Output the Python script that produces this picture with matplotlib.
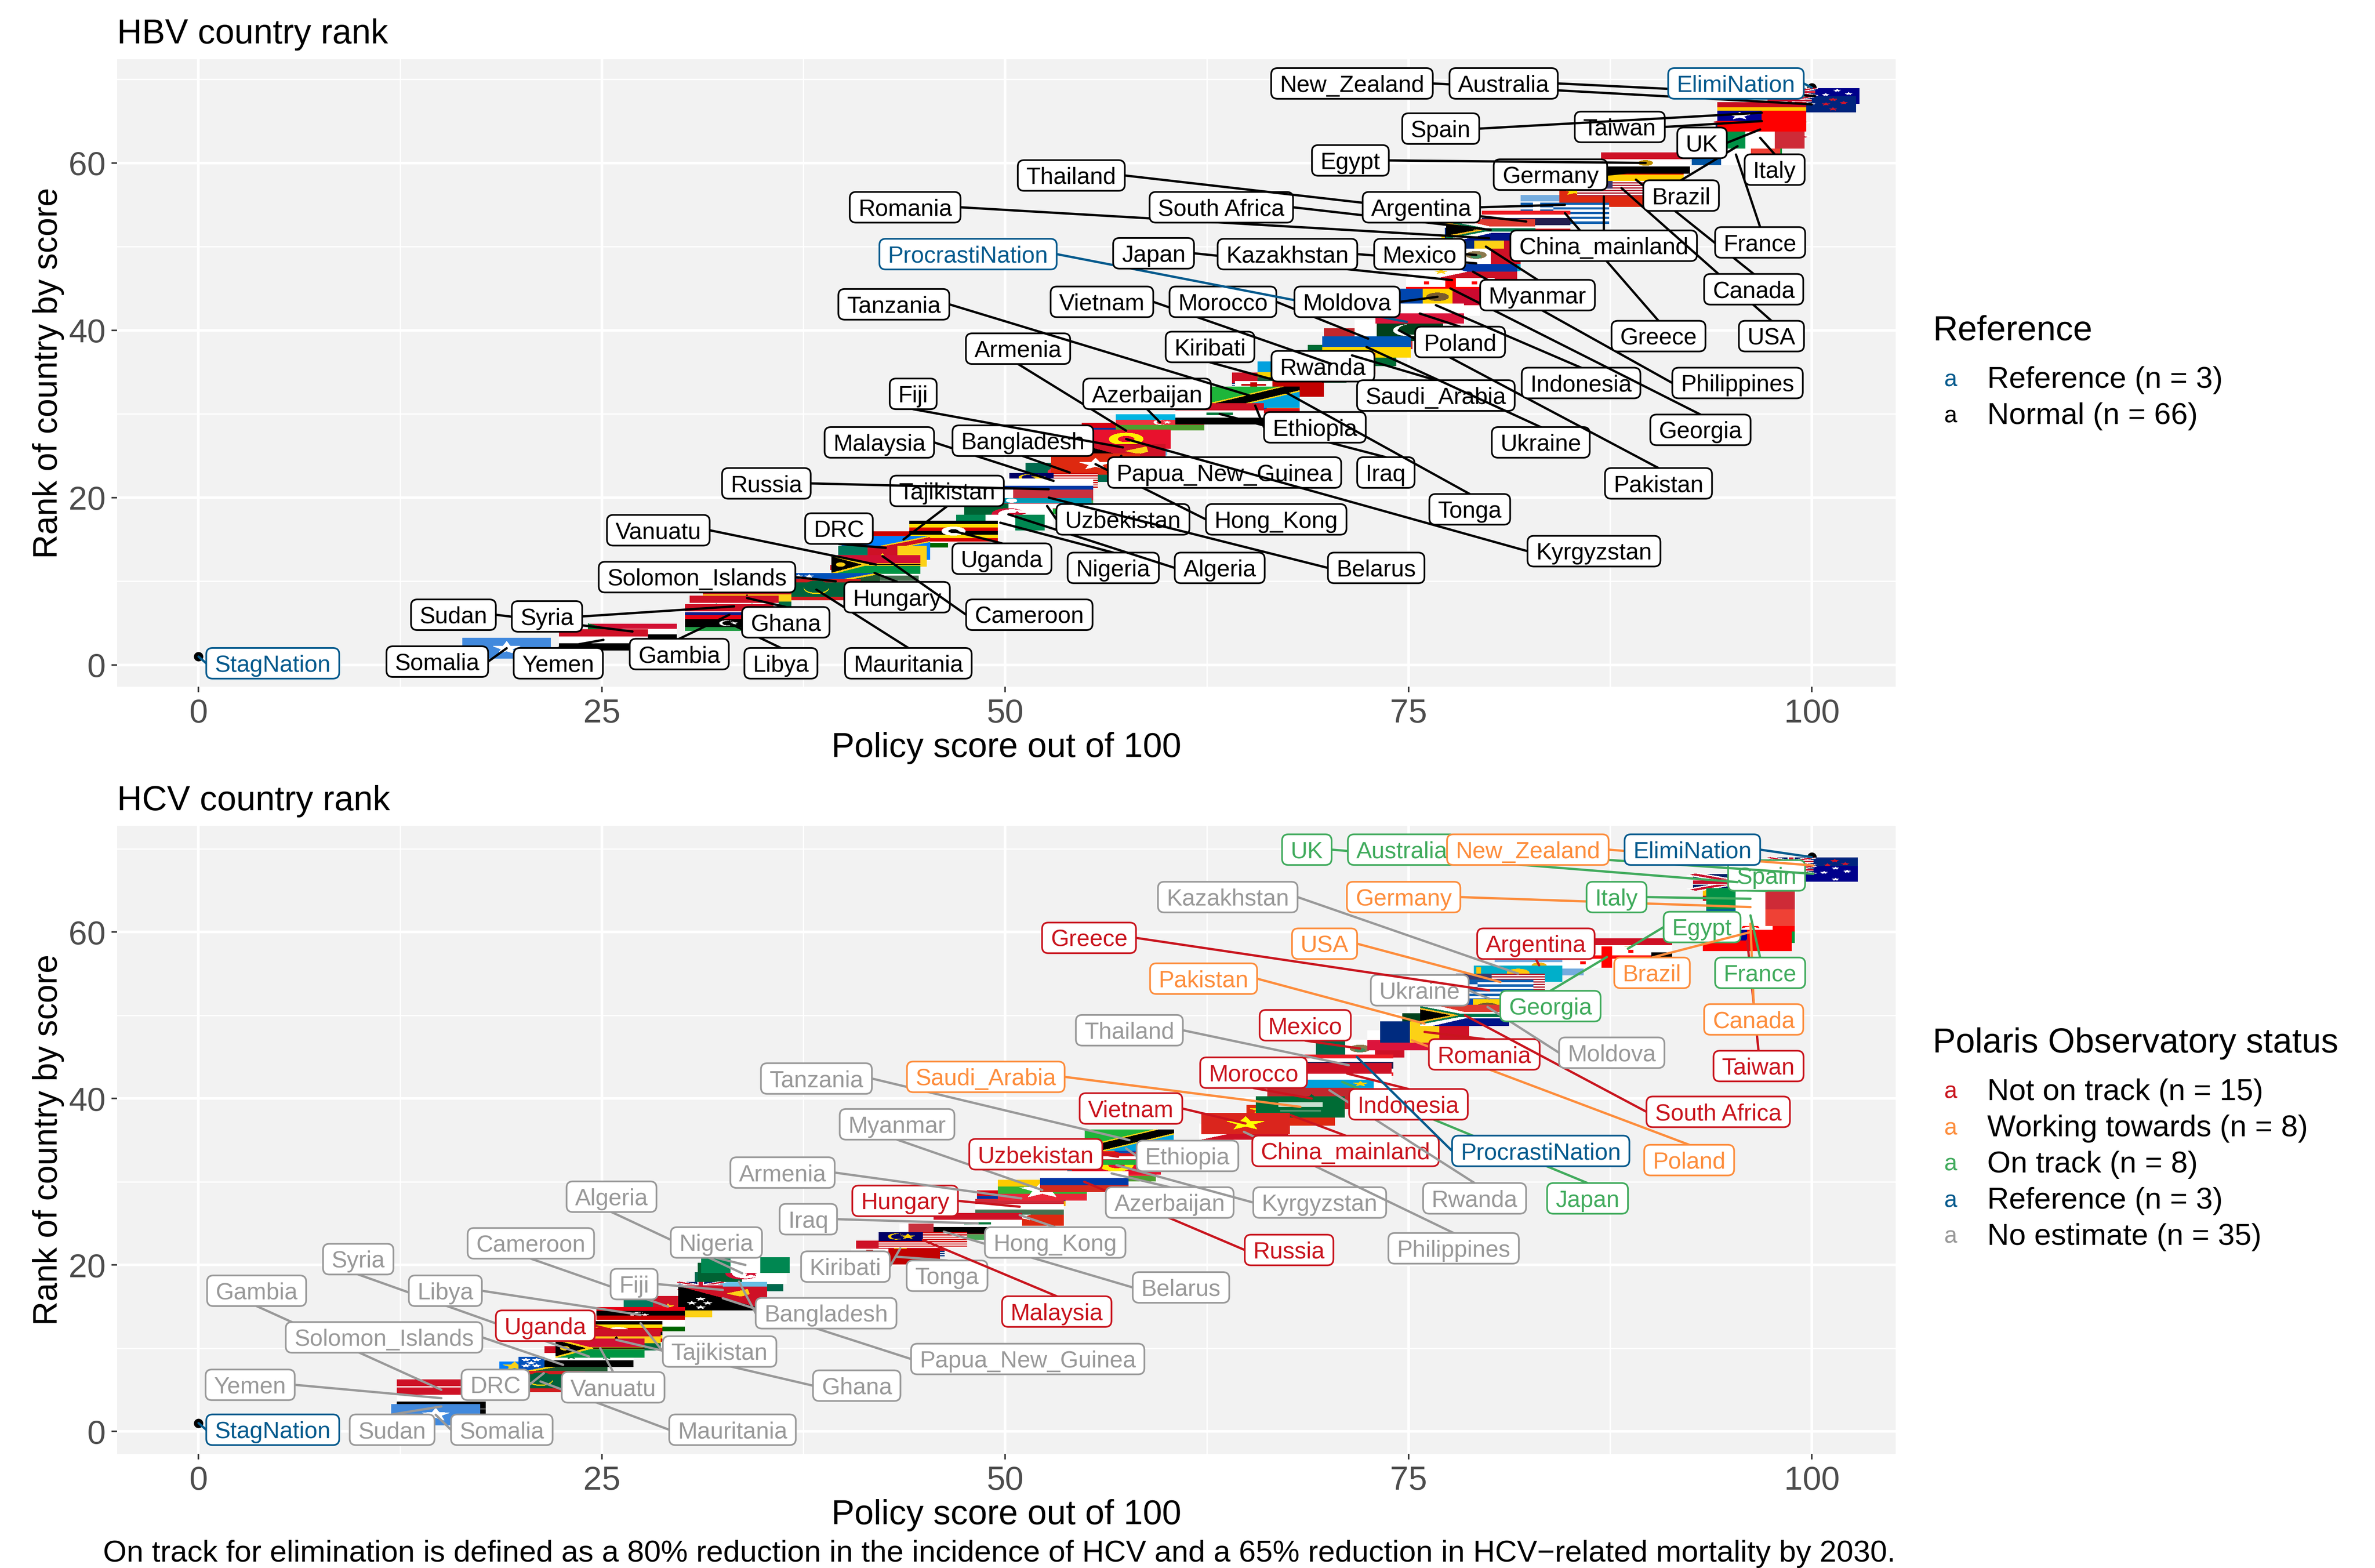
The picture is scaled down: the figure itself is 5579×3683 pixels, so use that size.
import math
import matplotlib
matplotlib.use("Agg")
import matplotlib.pyplot as plt
from matplotlib.collections import PolyCollection
from matplotlib.patches import FancyBboxPatch
from matplotlib.transforms import IdentityTransform

plt.rcParams['font.family'] = ['Liberation Sans', 'DejaVu Sans']

# ---------------------------------------------------------------- data
hbv_countries = ["StagNation","Somalia","Yemen","Sudan","Libya","Gambia","Syria","Ghana","Mauritania","Solomon_Islands",
 "Hungary","Vanuatu","Cameroon","DRC","Tajikistan","Uganda","Nigeria","Algeria","Uzbekistan","Belarus",
 "Russia","Malaysia","Bangladesh","Hong_Kong","Papua_New_Guinea","Fiji","Kyrgyzstan","Armenia","Azerbaijan","Iraq",
 "Ethiopia","Tanzania","Tonga","Kiribati","Rwanda","Vietnam","Saudi_Arabia","Ukraine","Morocco","Pakistan",
 "ProcrastiNation","Poland","Indonesia","Moldova","Georgia","Japan","Philippines","Kazakhstan","Mexico","Myanmar",
 "Romania","South Africa","Thailand","Greece","Argentina","China_mainland","USA","Canada","Germany","Egypt",
 "France","Brazil","Italy","UK","Taiwan","Spain","New_Zealand","Australia","ElimiNation"]
hbv_scores = [0,19.1,25.1,26.9,32.9,32.9,33.2,34,38.3,39.5,
 41.9,42.0,42.4,42.6,43.7,46.8,49.7,50.2,52.6,52.7,
 52.7,53.0,54.0,55.6,57.2,57.3,57.5,57.5,59.6,63.3,
 65.5,65.5,67.0,66.8,68.4,70.2,71.5,72.4,72.5,74.4,
 74.9,75.7,76.7,76.8,77.6,77.7,79.0,79.2,79.2,79.8,
 80.0,80.1,82.3,84.7,84.7,87.1,88.2,89.1,89.3,89.7,
 95.3,95.4,96.8,96.8,96.9,96.9,100,100.2,100]
hbv_ranks = list(range(1, 70))

hcv_countries = ["StagNation","Somalia","Sudan","Yemen","Gambia","Mauritania","DRC","Solomon_Islands","Syria","Vanuatu",
 "Ghana","Uganda","Tajikistan","Libya","Cameroon","Papua_New_Guinea","Fiji","Bangladesh","Algeria","Nigeria",
 "Tonga","Kiribati","Malaysia","Belarus","Iraq","Hong_Kong","Hungary","Armenia","Myanmar","Russia",
 "Azerbaijan","Kyrgyzstan","Uzbekistan","Ethiopia","Tanzania","Philippines","Vietnam","China_mainland","Saudi_Arabia","Morocco",
 "Rwanda","Japan","Indonesia","Thailand","ProcrastiNation","Mexico","Poland","Romania","Pakistan","South Africa",
 "Moldova","Ukraine","Greece","USA","Kazakhstan","Argentina","Georgia","Egypt","Taiwan","Brazil",
 "Canada","France","Germany","Italy","Spain","UK","Australia","New_Zealand","ElimiNation"]
hcv_scores = [0,14.7,15.05,15.05,15.05,21.2,21.4,22.6,24.2,24.9,
 25.9,26.0,27.4,27.4,29.1,32.5,32.5,33.5,33.7,33.9,
 43.2,43.5,44.9,46.2,48.3,50.9,50.9,51.0,52.3,54.9,
 56.6,56.9,57.0,57.5,57.7,64.8,64.9,67.7,68.3,69.0,
 70.1,70.9,71.2,71.3,71.8,72.0,75.2,76.0,76.0,78.5,
 79.9,80.0,80.0,80.7,81.8,83.1,87.3,88.6,96.0,96.2,
 96.2,96.2,96.2,96.2,96.0,95.4,100.1,100.1,100]
hcv_ranks = list(range(1, 70))

not_on_track = ["Greece","Argentina","Mexico","Romania","Taiwan","Morocco","Indonesia","Vietnam","South Africa",
                "China_mainland","Uzbekistan","Hungary","Russia","Malaysia","Uganda"]
working_towards = ["New_Zealand","Germany","USA","Brazil","Pakistan","Canada","Saudi_Arabia","Poland"]
on_track = ["UK","Australia","Italy","Spain","Egypt","France","Georgia","Japan"]
reference = ["ElimiNation","ProcrastiNation","StagNation"]

hbv_legend_title = "Reference"
hbv_legend_labels = ["Reference (n = 3)", "Normal (n = 66)"]
hcv_legend_title = "Polaris Observatory status"
hcv_legend_labels = ["Not on track (n = 15)", "Working towards (n = 8)", "On track (n = 8)", "Reference (n = 3)", "No estimate (n = 35)"]
x_ticks = [0, 25, 50, 75, 100]
y_ticks = [0, 20, 40, 60]
caption = "On track for elimination is defined as a 80% reduction in the incidence of HCV and a 65% reduction in HCV\u2212related mortality by 2030."

# ---------------------------------------------------------------- layout / style
RED, ORANGE, GREEN, BLUE, GREY = "#C9151E", "#FD8D3C", "#41AB5D", "#045A8D", "#999999"

# stacking of the flags: smaller key = nearer the viewer; the rank is the default key
HBV_STACK = {"Taiwan":30,"Italy":40,"Egypt":54.2,"Germany":54.3,"USA":54.4,"China_mainland":54.5,"Canada":54.6,
 "South Africa":49.0,"Romania":49.1,"Mexico":49.2,"Myanmar":49.3,"Kazakhstan":49.4,"Japan":47.5,"Moldova":42.9,
 "Pakistan":42.5,"Morocco":42.6,"Ukraine":36.5,"Hungary":12.5,"Tajikistan":16.5,"Hong_Kong":22.5,"Fiji":27.5,
 "Armenia":29.5,"Iraq":28.5,"Tanzania":30.5,"Kiribati":35.5}
HCV_STACK = {"UK":64.5,"Germany":65.5,"France":64.1,"Canada":64.2,"Brazil":64.3,"Georgia":55.5,"Ukraine":54.5,
 "South Africa":45.5,"Romania":45.6,"Pakistan":45.7,"Poland":45.8,"Mexico":45.9,"Japan":44.5,"China_mainland":39.5,
 "Philippines":37.5,"Tanzania":31.1,"Ethiopia":31.15,"Uzbekistan":31.2,"Kyrgyzstan":31.3,"Azerbaijan":31.4,
 "Russia":26.4,"Myanmar":26.5,"Hong_Kong":27.5,"Belarus":25.5,"Kiribati":23.5,"Nigeria":18.5,"Bangladesh":19.5,
 "Cameroon":16.5,"Syria":10.5,"Solomon_Islands":10.6,"DRC":10.7,"Gambia":4.5,"Sudan":4.6}

HBV_LABEL_POS = {
"New_Zealand":(71.5,69.5),"Australia":(80.9,69.5),"ElimiNation":(95.3,69.5),"Spain":(77.0,64.1),"Taiwan":(88.1,64.3),
"UK":(93.2,62.4),"Egypt":(71.4,60.3),"Italy":(97.7,59.2),"Germany":(83.8,58.6),"Brazil":(91.9,56.1),
"Thailand":(54.1,58.5),"Romania":(43.8,54.7),"South Africa":(63.4,54.7),"Argentina":(75.8,54.7),"France":(96.8,50.5),
"China_mainland":(87.1,50.1),"ProcrastiNation":(47.7,49.1),"Japan":(59.2,49.2),"Kazakhstan":(67.5,49.1),"Mexico":(75.7,49.1),
"Canada":(96.4,44.9),"Myanmar":(83.0,44.2),"Vietnam":(56.0,43.4),"Morocco":(63.5,43.4),"Moldova":(71.2,43.4),
"Tanzania":(43.1,43.1),"Greece":(90.5,39.3),"USA":(97.5,39.3),"Poland":(78.2,38.6),"Kiribati":(62.7,38.0),
"Armenia":(50.8,37.8),"Rwanda":(69.7,35.7),"Indonesia":(85.7,33.7),"Philippines":(95.4,33.7),"Azerbaijan":(58.8,32.4),
"Fiji":(44.3,32.4),"Saudi_Arabia":(76.7,32.2),"Ethiopia":(69.2,28.4),"Georgia":(93.1,28.1),"Malaysia":(42.2,26.6),
"Bangladesh":(51.1,26.8),"Ukraine":(83.2,26.6),"Iraq":(73.6,23.0),"Papua_New_Guinea":(63.6,23.0),"Russia":(35.2,21.7),
"Pakistan":(90.5,21.7),"Tajikistan":(46.4,20.8),"Tonga":(78.8,18.6),"Uzbekistan":(57.3,17.4),"Hong_Kong":(66.8,17.4),
"DRC":(39.7,16.3),"Vanuatu":(28.5,16.1),"Kyrgyzstan":(86.5,13.6),"Uganda":(49.8,12.7),"Nigeria":(56.7,11.6),
"Algeria":(63.3,11.6),"Belarus":(73.0,11.6),"Solomon_Islands":(30.9,10.5),"Hungary":(43.3,8.1),"Cameroon":(51.5,6.0),
"Sudan":(15.8,6.0),"Syria":(21.6,5.8),"Ghana":(36.4,5.1),"Gambia":(29.8,1.3),"Mauritania":(44.0,0.2),
"Somalia":(14.8,0.4),"Yemen":(22.3,0.2),"Libya":(36.1,0.2),"StagNation":(4.6,0.2)}

HCV_LABEL_POS = {
"UK":(68.7,69.9),"Australia":(74.6,69.9),"New_Zealand":(82.4,69.9),"ElimiNation":(92.6,69.9),"Spain":(97.2,66.8),
"Kazakhstan":(63.8,64.2),"Germany":(74.7,64.2),"Italy":(87.9,64.2),"Egypt":(93.2,60.6),"Greece":(55.2,59.3),
"Argentina":(82.9,58.6),"USA":(69.8,58.6),"Brazil":(90.1,55.1),"France":(96.8,55.1),"Pakistan":(62.3,54.4),
"Ukraine":(75.7,53.0),"Georgia":(83.8,51.1),"Canada":(96.4,49.5),"Mexico":(68.6,48.8),"Thailand":(57.7,48.2),
"Romania":(79.7,45.3),"Moldova":(87.6,45.5),"Taiwan":(96.7,43.9),"Morocco":(65.4,43.1),"Tanzania":(38.3,42.4),
"Saudi_Arabia":(48.8,42.6),"Indonesia":(75.0,39.3),"Vietnam":(57.8,38.8),"South Africa":(94.2,38.4),"Myanmar":(43.3,36.9),
"China_mainland":(71.1,33.7),"ProcrastiNation":(83.2,33.7),"Uzbekistan":(51.9,33.3),"Ethiopia":(61.3,33.1),"Poland":(92.4,32.6),
"Armenia":(36.2,31.1),"Rwanda":(79.1,28.0),"Japan":(86.1,28.0),"Kyrgyzstan":(69.5,27.5),"Azerbaijan":(60.2,27.5),
"Algeria":(25.6,28.2),"Hungary":(43.8,27.7),"Iraq":(37.8,25.5),"Hong_Kong":(53.1,22.7),"Nigeria":(32.1,22.7),
"Cameroon":(20.6,22.6),"Russia":(67.6,21.8),"Philippines":(77.8,22.0),"Kiribati":(40.1,19.8),"Tonga":(46.4,18.7),
"Syria":(9.9,20.7),"Belarus":(60.9,17.3),"Gambia":(3.6,16.9),"Libya":(15.3,16.9),"Fiji":(27.0,17.7),
"Malaysia":(53.2,14.4),"Bangladesh":(38.9,14.2),"Uganda":(21.5,12.7),"Solomon_Islands":(11.5,11.3),"Tajikistan":(32.3,9.6),
"Papua_New_Guinea":(51.4,8.7),"Yemen":(3.2,5.6),"DRC":(18.4,5.6),"Vanuatu":(25.7,5.3),"Ghana":(40.8,5.5),
"Mauritania":(33.1,0.2),"Somalia":(18.8,0.2),"Sudan":(12.0,0.2),"StagNation":(4.6,0.2)}

# ---------------------------------------------------------------- flag art, in unit coordinates (y down)
def R(x0, y0, x1, y1, c):
    return [([(x0,y0),(x1,y0),(x1,y1),(x0,y1)], c)]
def H(cols, w=None):
    w = w or [1]*len(cols); t = sum(w); out = []; y = 0
    for c, k in zip(cols, w):
        out += R(0, y/t, 1, (y+k)/t, c); y += k
    return out
def V(cols, w=None):
    w = w or [1]*len(cols); t = sum(w); out = []; x = 0
    for c, k in zip(cols, w):
        out += R(x/t, 0, (x+k)/t, 1, c); x += k
    return out
def P(pts, c):
    return [(pts, c)]
def O(cx, cy, r, c, asp=2.0):
    return [([(cx+r/asp*math.cos(t*math.pi/16), cy+r*math.sin(t*math.pi/16)) for t in range(32)], c)]
def S(cx, cy, r, c, asp=2.0):
    pts = []
    for i in range(10):
        rr = r if i % 2 == 0 else r*0.42
        a = -math.pi/2 + i*math.pi/5
        pts.append((cx+rr/asp*math.cos(a), cy+rr*math.sin(a)))
    return [(pts, c)]
def UJ(x0, y0, x1, y1):
    w, h = x1-x0, y1-y0
    def band(a, b, t, c):
        dx, dy = (b[0]-a[0]), (b[1]-a[1]); L = math.hypot(dx/w, dy/h)
        nx, ny = -dy/h/L*t*w, dx/w/L*t*h
        return [([(a[0]+nx,a[1]+ny),(b[0]+nx,b[1]+ny),(b[0]-nx,b[1]-ny),(a[0]-nx,a[1]-ny)], c)]
    out = R(x0,y0,x1,y1,"#012169")
    out += band((x0,y0),(x1,y1),.1,"#FFFFFF") + band((x0,y1),(x1,y0),.1,"#FFFFFF")
    out += band((x0,y0),(x1,y1),.04,"#C8102E") + band((x0,y1),(x1,y0),.04,"#C8102E")
    out += R(x0,y0+h*.33,x1,y0+h*.67,"#FFFFFF") + R(x0+w*.42,y0,x0+w*.58,y1,"#FFFFFF")
    out += R(x0,y0+h*.4,x1,y0+h*.6,"#C8102E") + R(x0+w*.45,y0,x0+w*.55,y1,"#C8102E")
    return out

W_, K_ = "#FFFFFF", "#000000"
FLAGS = {
"Somalia":(1.5, R(0,0,1,1,"#4189DD")+S(.5,.5,.32,W_)),
"Yemen":(1.5, H(["#CE1126",W_,K_])),
"Sudan":(2, H(["#D21034",W_,K_])+P([(0,0),(.33,.5),(0,1)],"#007229")),
"Libya":(2, H(["#E70013",K_,"#239E46"],[1,2,1])+O(.47,.5,.16,W_)+O(.49,.5,.13,K_)+S(.55,.5,.08,W_)),
"Gambia":(1.5, H(["#CE1126",W_,"#0C1C8C",W_,"#3A7728"],[6,1,4,1,6])),
"Syria":(1.5, H(["#CE1126",W_,K_])+S(.3,.5,.13,"#007A3D")+S(.7,.5,.13,"#007A3D")),
"Ghana":(1.5, H(["#CE1126","#FCD116","#006B3F"])+S(.5,.5,.16,K_)),
"Mauritania":(1.5, H(["#D01C1F","#00623B","#D01C1F"],[1,4,1])+S(.5,.3,.13,"#FFD700")+O(.5,.42,.28,"#FFD700")+O(.5,.36,.28,"#00623B")),
"Solomon_Islands":(2, P([(0,0),(1,0),(0,1)],"#0051BA")+P([(1,0),(1,1),(0,1)],"#215B33")+P([(.95,0),(1,0),(1,.03),(.05,1),(0,1),(0,.97)],"#FCD116")
    +S(.08,.18,.1,W_)+S(.2,.18,.1,W_)+S(.14,.38,.1,W_)+S(.08,.55,.1,W_)+S(.2,.55,.1,W_)),
"Hungary":(2, H(["#CE2939",W_,"#477050"])),
"Vanuatu":(5/3, H(["#D21034",K_,"#009543"],[8,1,8])+R(0,.44,1,.56,"#FDCE12")+R(0,.47,1,.53,K_)
    +P([(0,0),(.42,.5),(0,1)],"#FDCE12")+P([(0,.09),(.33,.5),(0,.91)],K_)+O(.1,.5,.1,"#FDCE12")),
"Cameroon":(1.5, V(["#007A5E","#CE1126","#FCD116"])+S(.5,.5,.13,"#FCD116")),
"DRC":(4/3, R(0,0,1,1,"#007FFF")+P([(0,1),(0,.75),(1,0),(1,.25)],"#FCD116")+P([(0,.94),(0,.8),(1,.06),(1,.2)],"#CE1021")+S(.17,.2,.18,"#FCD116",1.33)),
"Tajikistan":(2, H(["#CC0000",W_,"#006600"],[2,3,2])+S(.5,.5,.1,"#F8C300")),
"Uganda":(1.5, H([K_,"#FCDC04","#D90000",K_,"#FCDC04","#D90000"])+O(.5,.5,.2,W_,1.5)+O(.5,.5,.08,K_,1.5)),
"Nigeria":(2, V(["#008751",W_,"#008751"])),
"Algeria":(1.5, V(["#006233",W_])+O(.5,.5,.28,"#D21034",1.5)+O(.54,.5,.23,W_,1.5)+S(.6,.5,.14,"#D21034",1.5)),
"Uzbekistan":(2, H(["#0099B5",W_,"#1EB53A"])+R(0,.32,1,.35,"#CE1126")+R(0,.65,1,.68,"#CE1126")+O(.1,.16,.12,W_)),
"Belarus":(2, H(["#C8313E","#4AA657"],[2,1])+R(0,0,.1,1,W_)),
"Russia":(1.5, H([W_,"#0039A6","#D52B1E"])),
"Malaysia":(2, H(["#CC0001",W_]*7)+R(0,0,.5,.57,"#010066")+O(.2,.28,.18,"#FFCC00")+O(.22,.28,.15,"#010066")+S(.33,.28,.16,"#FFCC00")),
"Bangladesh":(5/3, R(0,0,1,1,"#006A4E")+O(.45,.5,.33,"#F42A41",1.67)),
"Hong_Kong":(1.5, R(0,0,1,1,"#DE2910")+S(.5,.5,.28,W_,1.5)),
"Papua_New_Guinea":(4/3, P([(0,0),(1,0),(1,1)],"#CE1126")+P([(0,0),(1,1),(0,1)],K_)+P([(.55,.3),(.78,.12),(.8,.32),(.7,.42)],"#FCD116")
    +S(.25,.53,.07,W_,1.33)+S(.15,.7,.07,W_,1.33)+S(.33,.7,.07,W_,1.33)+S(.25,.88,.07,W_,1.33)),
"Fiji":(2, R(0,0,1,1,"#68BFE5")+UJ(0,0,.5,.5)+R(.62,.3,.85,.55,"#CE1126")),
"Kyrgyzstan":(5/3, R(0,0,1,1,"#E8112D")+O(.5,.5,.32,"#FFEF00",1.67)+O(.5,.5,.15,"#E8112D",1.67)),
"Armenia":(2, H(["#D90012","#0033A0","#F2A800"])),
"Azerbaijan":(2, H(["#00B5E2","#EF3340","#509E2F"])+O(.5,.5,.14,W_)+O(.52,.5,.11,"#EF3340")+S(.58,.5,.08,W_)),
"Iraq":(1.5, H(["#CE1126",W_,K_])+R(.35,.44,.65,.56,"#007A3D")),
"Ethiopia":(2, H(["#078930","#FCDD09","#DA121A"])+O(.5,.5,.3,"#0F47AF")),
"Tanzania":(1.5, P([(0,0),(1,0),(0,1)],"#1EB53A")+P([(1,0),(1,1),(0,1)],"#00A3DD")+P([(.78,0),(1,0),(1,.23),(.22,1),(0,1),(0,.77)],"#FCD116")
    +P([(.84,0),(1,0),(1,.16),(.16,1),(0,1),(0,.84)],K_)),
"Tonga":(2, R(0,0,1,1,"#C10000")+R(0,0,.42,.5,W_)+R(.17,.08,.25,.42,"#C10000")+R(.07,.2,.35,.3,"#C10000")),
"Kiribati":(2, H(["#CE1126","#CE1126","#003F87",W_,"#003F87",W_,"#003F87"],[5,5,1,1,1,1,1])+O(.5,.5,.14,"#FCD116")),
"Rwanda":(1.5, H(["#00A1DE","#FAD201","#20603D"],[2,1,1])+S(.85,.2,.12,"#FAD201",1.5)),
"Vietnam":(1.5, R(0,0,1,1,"#DA251D")+S(.5,.5,.33,"#FFFF00",1.5)),
"Saudi_Arabia":(1.5, R(0,0,1,1,"#006C35")+R(.25,.28,.75,.5,"#C8E0D0")+R(.27,.68,.73,.71,W_)),
"Ukraine":(1.5, H(["#0057B7","#FFD700"])),
"Morocco":(1.5, R(0,0,1,1,"#C1272D")+S(.5,.5,.2,"#006233",1.5)),
"Pakistan":(1.5, V([W_,"#01411C"],[1,3])+O(.62,.5,.27,W_,1.5)+O(.66,.46,.24,"#01411C",1.5)),
"Poland":(1.6, H([W_,"#DC143C"])),
"Indonesia":(1.5, H(["#CE1126",W_])),
"Moldova":(2, V(["#0046AE","#FFD200","#CC092F"])+O(.5,.5,.25,"#7A5C2E")),
"Georgia":(1.5, R(0,0,1,1,W_)+R(.44,0,.56,1,"#FF0000")+R(0,.42,1,.58,"#FF0000")+R(.2,.16,.26,.3,"#FF0000")+R(.74,.7,.8,.84,"#FF0000")+R(.2,.7,.26,.84,"#FF0000")+R(.74,.16,.8,.3,"#FF0000")),
"Japan":(1.5, R(0,0,1,1,W_)+O(.5,.5,.3,"#BC002D",1.5)),
"Philippines":(2, H(["#0038A8","#CE1126"])+P([(0,0),(.43,.5),(0,1)],W_)+S(.14,.5,.15,"#FCD116")),
"Kazakhstan":(2, R(0,0,1,1,"#00AFCA")+O(.5,.45,.25,"#FEC50C")+R(.03,.1,.08,.9,"#FEC50C")),
"Mexico":(1.75, V(["#006847",W_,"#CE1126"])+O(.5,.5,.2,"#8C7A4E",1.75)+O(.5,.58,.1,"#3F8F5F",1.75)),
"Myanmar":(1.5, H(["#FECB00","#34B233","#EA2839"])+S(.5,.5,.4,W_,1.5)),
"Romania":(1.5, V(["#002B7F","#FCD116","#CE1126"])),
"South Africa":(1.5, H(["#E03C31","#E03C31","#001489","#001489"],[1,1,1,1])+P([(0,0),(.13,0),(.5,.36),(1,.36),(1,.64),(.5,.64),(.13,1),(0,1)],W_)
    +P([(0,.08),(.44,.43),(1,.43),(1,.57),(.44,.57),(0,.92)],"#007749")+P([(0,.16),(.42,.5),(0,.84)],"#FFB81C")+P([(0,.24),(.33,.5),(0,.76)],K_)),
"Thailand":(1.5, H(["#ED1C24",W_,"#241D4F",W_,"#ED1C24"],[1,1,2,1,1])),
"Greece":(1.5, H(["#0D5EAF",W_]*4+["#0D5EAF"])+R(0,0,.37,.556,"#0D5EAF")+R(.14,0,.22,.556,W_)+R(0,.22,.37,.33,W_)),
"Argentina":(1.6, H(["#74ACDF",W_,"#74ACDF"])+O(.5,.5,.13,"#F6B40E",1.6)),
"China_mainland":(1.5, R(0,0,1,1,"#DE2910")+S(.17,.25,.2,"#FFDE00",1.5)+S(.33,.12,.06,"#FFDE00",1.5)+S(.38,.22,.06,"#FFDE00",1.5)+S(.38,.36,.06,"#FFDE00",1.5)),
"USA":(1.9, H(["#B22234",W_]*6+["#B22234"])+R(0,0,.4,.54,"#3C3B6E")),
"Canada":(2, V(["#FF0000",W_,"#FF0000"],[1,2,1])+S(.5,.5,.33,"#FF0000")),
"Germany":(5/3, H([K_,"#DD0000","#FFCE00"])),
"Egypt":(1.5, H(["#CE1126",W_,K_])+O(.5,.5,.12,"#C09300",1.5)),
"France":(1.5, V(["#0055A4",W_,"#EF4135"])),
"Brazil":(1.43, R(0,0,1,1,"#009C3B")+P([(.5,.1),(.92,.5),(.5,.9),(.08,.5)],"#FFDF00")+O(.5,.5,.25,"#002776",1.43)),
"Italy":(1.5, V(["#009246",W_,"#CE2B37"])),
"UK":(2, UJ(0,0,1,1)),
"Taiwan":(1.5, R(0,0,1,1,"#FE0000")+R(0,0,.5,.5,"#000095")+S(.25,.25,.18,W_,1.5)),
"Spain":(1.5, H(["#C60B1E","#FFC400","#C60B1E"],[1,2,1])),
"New_Zealand":(2, R(0,0,1,1,"#00247D")+UJ(0,0,.5,.5)+S(.74,.2,.09,"#CC142B")+S(.66,.48,.09,"#CC142B")+S(.86,.4,.09,"#CC142B")+S(.74,.8,.09,"#CC142B")),
"Australia":(2, R(0,0,1,1,"#00008B")+UJ(0,0,.5,.5)+S(.25,.75,.14,W_)+S(.75,.15,.08,W_)+S(.62,.42,.08,W_)+S(.88,.35,.08,W_)+S(.75,.85,.08,W_)),
}
FLAG_W = 5.5        # data units of width
FLAG_K = 3.8        # height = FLAG_K / aspect, in ranks

W, H_PX = 5579, 3683
DPI = 300
fig = plt.figure(figsize=(W/DPI, H_PX/DPI), dpi=DPI, facecolor="white")

def make_axes(top, bottom, ylim):
    ax = fig.add_axes([275/W, 1-bottom/H_PX, (4453-275)/W, (bottom-top)/H_PX])
    ax.set_facecolor("#F2F2F2")
    ax.set_xlim(-5.05, 105.2)
    ax.set_ylim(*ylim)
    ax.set_xticks(x_ticks)
    ax.set_yticks(y_ticks)
    ax.set_xticks([12.5, 37.5, 62.5, 87.5], minor=True)
    ax.set_yticks([10, 30, 50, 70], minor=True)
    ax.grid(which="major", color="white", lw=1.5)
    ax.grid(which="minor", color="white", lw=0.75)
    ax.set_axisbelow(True)
    ax.tick_params(which="major", length=3.2, width=0.85, color="#333333", labelcolor="#4D4D4D", labelsize=18.8, pad=3.2)
    ax.tick_params(which="minor", length=0)
    for s in ax.spines.values():
        s.set_visible(False)
    ax.set_xlabel("Policy score out of 100", fontsize=19.5, color="black")
    ax.set_ylabel("Rank of country by score", fontsize=18.9, color="black")
    ax.xaxis.set_label_coords(0.5, -144/(bottom-top))
    ax.xaxis.label.set_va("center")
    ax.yaxis.set_label_coords((114-275)/(4453-275), 0.5)
    ax.yaxis.label.set_va("center")
    return ax

def draw_flag(ax, name, x, y, z):
    asp, shapes = FLAGS[name]
    h = FLAG_K/asp
    verts = [[(x+(u-.5)*FLAG_W, y+h/2-v*h) for u, v in pts] for pts, _ in shapes]
    cols = [c for _, c in shapes]
    ax.add_collection(PolyCollection(verts, facecolors=cols, linewidths=0, antialiaseds=False, zorder=z))

def draw_panel(ax, countries, scores, ranks, label_pos, colour_of, title, stack):
    ax.set_title(title, loc="left", fontsize=19.5, pad=8.8, color="black")
    renderer = fig.canvas.get_renderer()
    box = ax.get_window_extent(renderer)
    for c, x, y in zip(countries, scores, ranks):
        if c in reference:
            ax.plot([x], [y], "o", ms=5.3, color="black", mew=0, zorder=2.5)
        else:
            draw_flag(ax, c, x, y, 5 - stack.get(c, y)*0.01)
    fs = 13.2
    for i, (c, x, y) in enumerate(zip(countries, scores, ranks)):
        col = colour_of(c)
        lx, ly = label_pos[c]
        base = 10 + i*3
        t = ax.annotate(c, (lx, ly), xytext=(0, -fs*0.36), textcoords="offset points", ha="center", va="baseline",
                        fontsize=fs, color=col, zorder=base+2, annotation_clip=False)
        bb = t.get_window_extent(renderer)
        cx, cy = ax.transData.transform((lx, ly))
        bw, bh = bb.width + 40, 72
        # the leader leaves the box at the nearest mid-edge, measured in panel fractions
        px, py = ax.transData.transform((x, y))
        mids = [(cx-bw/2, cy), (cx+bw/2, cy), (cx, cy-bh/2), (cx, cy+bh/2)]
        ex, ey = min(mids, key=lambda m: math.hypot((m[0]-px)/box.width, (m[1]-py)/box.height))
        sx, sy = ax.transData.inverted().transform((ex, ey))
        ax.plot([sx, x], [sy, y], color=col, lw=1.3, solid_capstyle="round", zorder=base)
        patch = FancyBboxPatch((cx-bw/2, cy-bh/2), bw, bh, boxstyle="round,pad=0,rounding_size=15",
                               transform=IdentityTransform(), fc="white", ec=col, lw=0.95, zorder=base+1, clip_on=False)
        ax.add_patch(patch)

def draw_legend(y_title, title, y_rows, labels, colours):
    fig.text(4540/W, 1-y_title/H_PX, title, fontsize=19.5, va="center", ha="left")
    for y, lab, col in zip(y_rows, labels, colours):
        fig.text(4582/W, 1-y/H_PX, "a", fontsize=13.2, color=col, va="center", ha="center")
        fig.text(4668/W, 1-y/H_PX, lab, fontsize=17.0, va="center", ha="left")

ax1 = make_axes(139, 1613, (-2.6, 72.4))
ax2 = make_axes(1940, 3415, (-2.7, 72.75))

def hbv_colour(c):
    return BLUE if c in reference else "black"
def hcv_colour(c):
    if c in not_on_track: return RED
    if c in working_towards: return ORANGE
    if c in on_track: return GREEN
    if c in reference: return BLUE
    return GREY

draw_panel(ax1, hbv_countries, hbv_scores, hbv_ranks, HBV_LABEL_POS, hbv_colour, "HBV country rank", HBV_STACK)
draw_panel(ax2, hcv_countries, hcv_scores, hcv_ranks, HCV_LABEL_POS, hcv_colour, "HCV country rank", HCV_STACK)

draw_legend(778, hbv_legend_title, [893, 978], hbv_legend_labels, [BLUE, "black"])
draw_legend(2451, hcv_legend_title, [2566, 2651, 2736, 2821, 2906], hcv_legend_labels, [RED, ORANGE, GREEN, BLUE, GREY])

fig.text(4453/W, 1-3650/H_PX, caption, fontsize=17.1, ha="right", va="center")

fig.savefig("out.png", dpi=DPI, facecolor="white")
